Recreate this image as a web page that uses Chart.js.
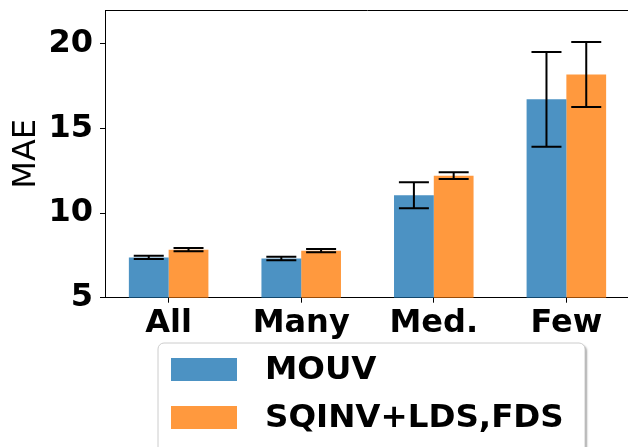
<!DOCTYPE html>
<html><head><meta charset="utf-8">
<script src="https://cdn.jsdelivr.net/npm/chart.js@4.4.0/dist/chart.umd.min.js"></script>
<style>
html,body{margin:0;padding:0;background:#fff;overflow:hidden;width:628px;height:447px}
#wrap{position:relative;width:640px;height:447px}
canvas{display:block}
</style></head><body>
<div id="wrap"><canvas id="c" width="640" height="447"></canvas></div>
<script>
// MAE per shot group, with error bar half-widths
const categories = ['All', 'Many', 'Med.', 'Few'];
const seriesNames = ['MOUV', 'SQINV+LDS,FDS'];
const mouvMAE = [7.38, 7.32, 11.05, 16.72];
const mouvErr = [0.10, 0.10, 0.77, 2.80];
const sqinvMAE = [7.84, 7.78, 12.21, 18.19];
const sqinvErr = [0.10, 0.10, 0.20, 1.92];
const yTicks = [5, 10, 15, 20];

const FONT = "'DejaVu Sans', sans-serif";
const seriesColors = ['rgba(31,119,180,0.8)', 'rgba(255,127,14,0.8)'];

const toPoints = arr => arr.map((v, i) => ({ x: i, y: v }));

// error bars drawn over each bar
const errorBars = {
  id: 'errorBars',
  afterDatasetsDraw(chart) {
    const ctx = chart.ctx, y = chart.scales.y;
    ctx.save();
    ctx.strokeStyle = '#000';
    ctx.lineWidth = 2;
    chart.data.datasets.forEach((ds, di) => {
      const meta = chart.getDatasetMeta(di);
      meta.data.forEach((bar, i) => {
        const v = ds.data[i].y, e = ds.errors[i];
        const yt = y.getPixelForValue(v + e), yb = y.getPixelForValue(v - e);
        const x = bar.x, cap = 15;
        ctx.beginPath();
        ctx.moveTo(x, yt); ctx.lineTo(x, yb);
        ctx.moveTo(x - cap, yt); ctx.lineTo(x + cap, yt);
        ctx.moveTo(x - cap, yb); ctx.lineTo(x + cap, yb);
        ctx.stroke();
      });
    });
    ctx.restore();
  }
};

// top spine of the axes frame
const topSpine = {
  id: 'topSpine',
  afterDraw(chart) {
    const { ctx, chartArea: a } = chart;
    ctx.save();
    ctx.strokeStyle = '#000';
    ctx.lineWidth = 1;
    ctx.beginPath();
    ctx.moveTo(a.left, a.top + 0.5);
    ctx.lineTo(a.right, a.top + 0.5);
    ctx.stroke();
    ctx.restore();
  }
};

// boxed legend below the axis labels
const boxLegend = {
  id: 'boxLegend',
  afterDraw(chart) {
    const ctx = chart.ctx;
    const bx = 158, by = 343, bw = 427, bh = 120, r = 6;
    ctx.save();
    ctx.shadowColor = 'rgba(0,0,0,0.35)';
    ctx.shadowOffsetX = 2;
    ctx.shadowOffsetY = 2;
    ctx.shadowBlur = 2;
    ctx.beginPath();
    ctx.roundRect(bx, by, bw, bh, r);
    ctx.fillStyle = '#fff';
    ctx.fill();
    ctx.shadowColor = 'transparent';
    ctx.strokeStyle = '#cccccc';
    ctx.lineWidth = 1;
    ctx.stroke();
    ctx.font = "bold 32.5px " + FONT;
    ctx.textBaseline = 'middle';
    chart.data.datasets.forEach((ds, i) => {
      const cy = 369.5 + i * 48;
      ctx.fillStyle = ds.backgroundColor;
      ctx.fillRect(171, cy - 11.5, 66, 23);
      ctx.fillStyle = '#000';
      ctx.fillText(ds.label, 265, cy + 1);
    });
    ctx.restore();
  }
};

const noPad = s => { s.paddingTop = 0; s.paddingBottom = 0; s.paddingLeft = 0; s.paddingRight = 0; };

new Chart(document.getElementById('c'), {
  type: 'bar',
  data: {
    datasets: [
      { label: seriesNames[0], data: toPoints(mouvMAE), errors: mouvErr, backgroundColor: seriesColors[0] },
      { label: seriesNames[1], data: toPoints(sqinvMAE), errors: sqinvErr, backgroundColor: seriesColors[1] }
    ]
  },
  options: {
    responsive: false,
    animation: false,
    devicePixelRatio: 1,
    layout: { padding: { top: 10, right: 10, bottom: 0, left: 0 } },
    datasets: { bar: { categoryPercentage: 0.6, barPercentage: 1.0, borderWidth: 0 } },
    plugins: { legend: { display: false }, tooltip: { enabled: false } },
    scales: {
      x: {
        type: 'linear',
        min: -0.48, max: 3.48,
        offset: false,
        afterBuildTicks: s => { s.ticks = categories.map((_, i) => ({ value: i })); },
        ticks: {
          callback: v => categories[v],
          font: { family: FONT, size: 32, weight: 'bold' },
          color: '#000',
          padding: 2,
          maxRotation: 0, autoSkip: false
        },
        grid: { display: true, offset: false, drawOnChartArea: false, drawTicks: true, tickLength: 5, color: '#000' },
        border: { display: true, color: '#000', width: 1 },
        afterFit: s => { noPad(s); s.height = 149.3; }
      },
      y: {
        min: 5, max: 22,
        afterBuildTicks: s => { s.ticks = yTicks.map(v => ({ value: v })); },
        ticks: {
          font: { family: FONT, size: 32, weight: 'bold' },
          color: '#000',
          padding: 7
        },
        grid: { display: true, drawOnChartArea: false, drawTicks: true, tickLength: 5, color: '#000' },
        border: { display: true, color: '#000', width: 1 },
        title: { display: true, text: 'MAE', font: { family: FONT, size: 32 }, color: '#000', padding: { top: 7, bottom: 0 } },
        afterFit: s => { noPad(s); s.width = 105; }
      }
    }
  },
  plugins: [errorBars, topSpine, boxLegend]
});
</script>
</body></html>
